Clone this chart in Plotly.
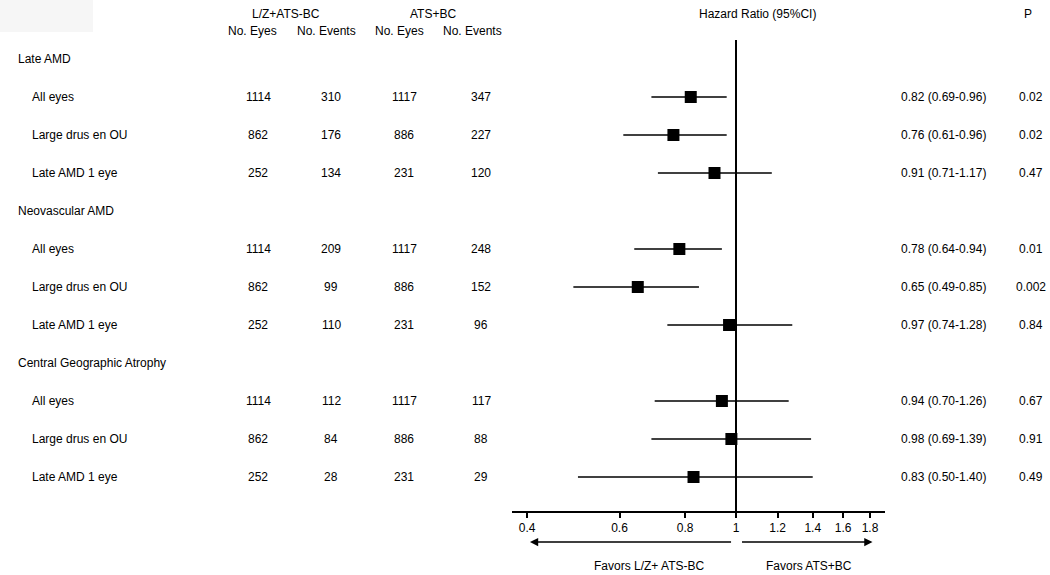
import numpy as np
import plotly.graph_objects as go

# ---------------- data ----------------
groups = ["Late AMD", "Neovascular AMD", "Central Geographic Atrophy"]
subgroups = ["All eyes", "Large drus en OU", "Late AMD 1 eye"]

lz_eyes = [1114, 862, 252, 1114, 862, 252, 1114, 862, 252]
lz_events = [310, 176, 134, 209, 99, 110, 112, 84, 28]
ats_eyes = [1117, 886, 231, 1117, 886, 231, 1117, 886, 231]
ats_events = [347, 227, 120, 248, 152, 96, 117, 88, 29]

hr = [0.82, 0.76, 0.91, 0.78, 0.65, 0.97, 0.94, 0.98, 0.83]
hr_lo = [0.69, 0.61, 0.71, 0.64, 0.49, 0.74, 0.70, 0.69, 0.50]
hr_hi = [0.96, 0.96, 1.17, 0.94, 0.85, 1.28, 1.26, 1.39, 1.40]
p_vals = ["0.02", "0.02", "0.47", "0.01", "0.002", "0.84", "0.67", "0.91", "0.49"]

tick_vals = [0.4, 0.6, 0.8, 1, 1.2, 1.4, 1.6, 1.8]
tick_text = ["0.4", "0.6", "0.8", "1", "1.2", "1.4", "1.6", "1.8"]

col_headers = ["No. Eyes", "No. Events", "No. Eyes", "No. Events"]
arm_headers = ["L/Z+ATS-BC", "ATS+BC"]
favor_labels = ["Favors L/Z+ ATS-BC", "Favors ATS+BC"]

# ---------------- layout helpers ----------------
W, H = 1050, 575
FONT = "Liberation Sans, Arial, sans-serif"
AX_BOT_PX = 511
ROW0_PX = 59
ROW_STEP = 38

def px_x(p):
    return p / W

def px_y(p):
    return 1 - p / H

# row positions (row index units)
data_rows = []
header_rows = []
r = 0
for g in groups:
    header_rows.append(r)
    r += 1
    for s in subgroups:
        data_rows.append(r)
        r += 1

fig = go.Figure()

# reference line at HR = 1
fig.add_trace(go.Scatter(
    x=[1, 1], y=[(40 - ROW0_PX) / ROW_STEP, (AX_BOT_PX - ROW0_PX) / ROW_STEP],
    mode="lines", line=dict(color="black", width=2),
    hoverinfo="skip", showlegend=False))

# estimates with CI
fig.add_trace(go.Scatter(
    x=hr, y=data_rows, mode="markers",
    marker=dict(symbol="square", size=12, color="black"),
    error_x=dict(type="data", symmetric=False,
                 array=[h - m for h, m in zip(hr_hi, hr)],
                 arrayminus=[m - l for m, l in zip(hr, hr_lo)],
                 color="black", thickness=1.6, width=0),
    showlegend=False))

ann = []
def txt(x, y, s, xanchor="center", yref="y", size=12, yanchor="middle"):
    ann.append(dict(x=x, y=y, xref="paper", yref=yref, text=s, showarrow=False,
                    xanchor=xanchor, yanchor=yanchor,
                    font=dict(family=FONT, size=size, color="black")))

# headers
txt(px_x(286), px_y(14), arm_headers[0], yref="paper")
txt(px_x(433), px_y(14), arm_headers[1], yref="paper")
for cx, h in zip([252, 326, 399, 472], col_headers):
    txt(px_x(cx), px_y(31), h, yref="paper")
txt(px_x(757), px_y(14), "Hazard Ratio (95%CI)", yref="paper")
txt(px_x(1028), px_y(14), "P", yref="paper")

# group headers
for g, rr in zip(groups, header_rows):
    txt(px_x(16), rr, g, xanchor="left")

# data rows
for i, rr in enumerate(data_rows):
    txt(px_x(30), rr, subgroups[i % 3], xanchor="left")
    txt(px_x(258), rr, str(lz_eyes[i]))
    txt(px_x(331), rr, str(lz_events[i]))
    txt(px_x(404), rr, str(ats_eyes[i]))
    txt(px_x(481), rr, str(ats_events[i]))
    txt(px_x(899), rr, f"{hr[i]:.2f} ({hr_lo[i]:.2f}-{hr_hi[i]:.2f})", xanchor="left")
    txt(px_x(1031), rr, p_vals[i])

# favour arrows (annotation x on log axis is log10 of the value)
arrow_y = px_y(542)
ann.append(dict(x=np.log10(0.405), y=arrow_y, ax=np.log10(0.985), ay=0,
                xref="x", yref="paper", axref="x", ayref="pixel",
                showarrow=True, arrowhead=2, arrowsize=1.1, arrowwidth=1.5,
                arrowcolor="black", text=""))
ann.append(dict(x=np.log10(1.82), y=arrow_y, ax=np.log10(1.02), ay=0,
                xref="x", yref="paper", axref="x", ayref="pixel",
                showarrow=True, arrowhead=2, arrowsize=1.1, arrowwidth=1.5,
                arrowcolor="black", text=""))
txt(px_x(649), px_y(575), favor_labels[0], yref="paper", yanchor="bottom")
txt(px_x(809), px_y(575), favor_labels[1], yref="paper", yanchor="bottom")

x_lo_px, x_hi_px = 512, 885
px_per_ln = 228.0
one_px = 736
x_range = [np.log10(np.exp((x_lo_px - one_px) / px_per_ln)),
           np.log10(np.exp((x_hi_px - one_px) / px_per_ln))]

fig.update_layout(
    width=W, height=H,
    margin=dict(l=0, r=0, t=0, b=0),
    paper_bgcolor="white", plot_bgcolor="white",
    font=dict(family=FONT, size=12, color="black"),
    annotations=ann,
    shapes=[dict(type="rect", xref="paper", yref="paper",
                 x0=0, x1=px_x(93), y0=px_y(32), y1=1,
                 fillcolor="#f6f6f6", line=dict(width=0), layer="below")],
    xaxis=dict(type="log", range=x_range,
               domain=[px_x(x_lo_px), px_x(x_hi_px)],
               tickvals=tick_vals, ticktext=tick_text,
               ticks="outside", ticklen=5, tickwidth=1.5, tickcolor="black",
               showline=True, linecolor="black", linewidth=1.5,
               showgrid=False, zeroline=False,
               tickfont=dict(family=FONT, size=12, color="black")),
    yaxis=dict(domain=[px_y(AX_BOT_PX), 1],
               range=[(AX_BOT_PX - ROW0_PX) / ROW_STEP, (0 - ROW0_PX) / ROW_STEP],
               visible=False, showgrid=False, zeroline=False),
)

fig.write_html("out.html",
               config={"displayModeBar": False},
               post_script="document.body.style.margin='0px';"
                           "document.body.style.overflow='hidden';")
